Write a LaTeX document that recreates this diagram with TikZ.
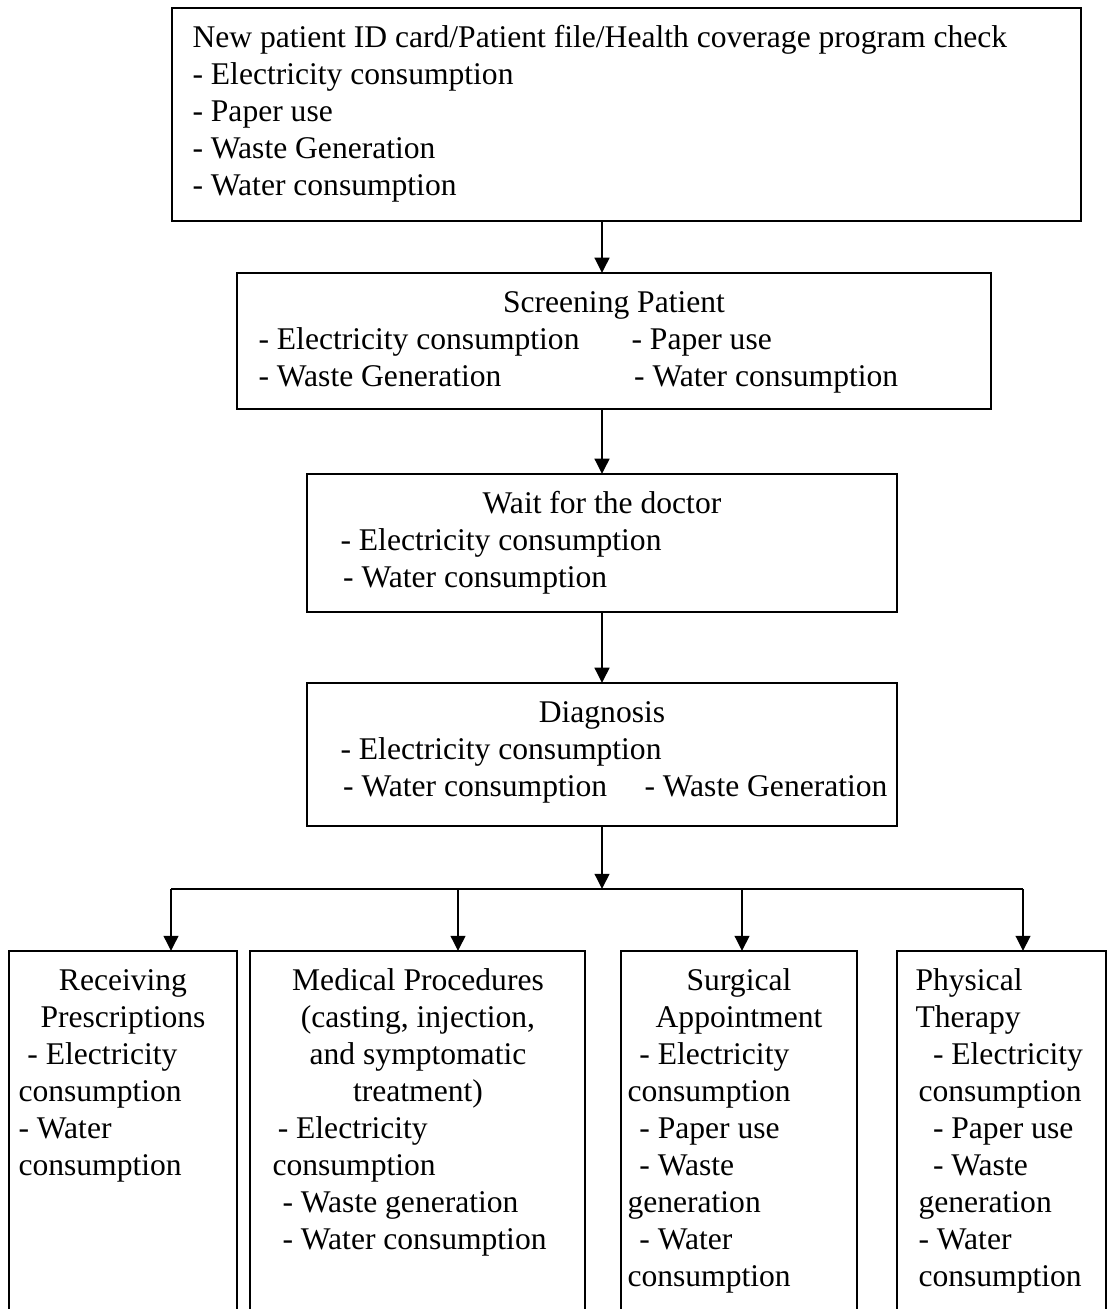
\documentclass[tikz,border=0pt]{standalone}
\usepackage{fontspec}
\setmainfont{Liberation Serif}
\usetikzlibrary{arrows.meta}

\begin{document}
\begin{tikzpicture}[
    x=0.38pt, y=-0.38pt,
    >={Triangle[length=5.8pt,width=5.6pt]},
    font=\fontsize{12}{14.06}\selectfont,
    box/.style 2 args={draw, line width=.75pt, anchor=north west, inner sep=0pt,
                       outer sep=0pt, minimum width=#1*0.38pt, minimum height=#2*0.38pt},
    lst/.style={anchor=north west, inner sep=0pt, align=left, yshift=9.842pt},
    hdr/.style={anchor=north, inner sep=0pt, align=center, yshift=9.842pt},
    arr/.style={->, line width=.75pt},
    bus/.style={line width=.75pt},
  ]
  \useasboundingbox (0,0) rectangle (1110,1309);
  \clip (0,0) rectangle (1110,1309);

  % boxes
  \node[box={909}{213}] (reg) at (172,8) {};
  \node[box={754}{136}] (scr) at (237,273) {};
  \node[box={590}{138}] (wait) at (307,474) {};
  \node[box={590}{143}] (diag) at (307,683) {};
  \node[box={228}{390}] (rec) at (9,951) {};
  \node[box={335}{390}] (med) at (250,951) {};
  \node[box={236}{390}] (surg) at (621,951) {};
  \node[box={209}{390}] (phys) at (897,951) {};

  % texts
  \node[lst] (regtxt) at (192,47) {\strut New patient ID card/Patient file/Health coverage program check\\
    - Electricity consumption\\- Paper use\\- Waste Generation\\- Water consumption};
  \node[hdr] (scrhd) at (614,312) {\strut Screening Patient};
  \node[lst] (scrl) at (258,349) {\strut- Electricity consumption\\- Waste Generation};
  \node[lst] (scrr) at (631,349) {\strut- Paper use\\\hspace*{1pt}- Water consumption};
  \node[hdr] (waithd) at (602,513) {\strut Wait for the doctor};
  \node[lst] (waitl) at (340,550) {\strut- Electricity consumption\\\hspace*{1pt}- Water consumption};
  \node[hdr] (diaghd) at (602,722) {\strut Diagnosis};
  \node[lst] (diagl) at (340,759) {\strut- Electricity consumption\\\hspace*{1pt}- Water consumption};
  \node[lst] (diagr) at (644,796) {\strut- Waste Generation};

  \node[hdr] (rechd) at (123,990) {\strut Receiving\\Prescriptions};
  \node[lst] (recl) at (18,1064) {\strut\hspace*{3.4pt}- Electricity\\consumption\\- Water\\consumption};
  \node[hdr] (medhd) at (418,990) {\strut Medical Procedures\\(casting, injection,\\and symptomatic\\treatment)};
  \node[lst] (medl) at (272,1138) {\strut\hspace*{2pt}- Electricity\\consumption\\
    \hspace*{3.8pt}- Waste generation\\\hspace*{3.8pt}- Water consumption};
  \node[hdr] (surghd) at (739,990) {\strut Surgical\\Appointment};
  \node[lst] (surgl) at (627,1064) {\strut\hspace*{4.5pt}- Electricity\\consumption\\
    \hspace*{4.5pt}- Paper use\\\hspace*{4.5pt}- Waste\\generation\\\hspace*{4.5pt}- Water\\consumption};
  \node[lst] (physhd) at (915,990) {\strut Physical\\Therapy};
  \node[lst] (physl) at (918,1064) {\strut\hspace*{5.5pt}- Electricity\\consumption\\
    \hspace*{5.5pt}- Paper use\\\hspace*{5.5pt}- Waste\\generation\\- Water\\consumption};

  % connectors
  \coordinate (busl) at (171,889);
  \coordinate (busr) at (1023,889);
  \coordinate (tapmed) at (458,889);
  \coordinate (tapsurg) at (742,889);
  \draw[arr] (reg.south -| wait.north) -- (scr.north -| wait.north);
  \draw[arr] (scr.south -| wait.north) -- (wait.north);
  \draw[arr] (wait.south) -- (diag.north);
  \draw[arr] (diag.south) -- (diag.south |- busl);
  \draw[bus] (busl) -- (busr);
  \draw[arr] (busl) -- (busl |- rec.north);
  \draw[arr] (tapmed) -- (tapmed |- med.north);
  \draw[arr] (tapsurg) -- (tapsurg |- surg.north);
  \draw[arr] (busr) -- (busr |- phys.north);
\end{tikzpicture}
\end{document}
